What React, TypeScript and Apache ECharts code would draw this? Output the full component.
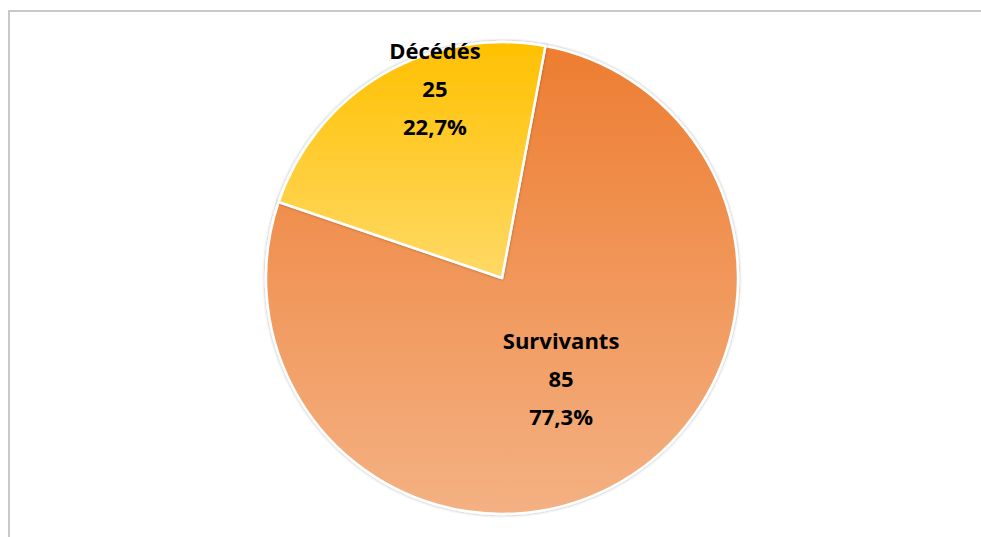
import React, { useEffect, useRef } from "react";
import * as echarts from "echarts";

const categories = ["Survivants", "Décédés"];
const values = [85, 25];
const topColors = ["#ED7D31", "#FFC000"];
const bottomColors = ["#F4B183", "#FFD966"];

export default function App() {
  const ref = useRef<HTMLDivElement>(null);
  useEffect(() => {
    document.body.style.margin = "0";
    const chart = echarts.init(ref.current!, null, { renderer: "svg" });
    const total = values.reduce((a, b) => a + b, 0);
    chart.setOption({
      animation: false,
      backgroundColor: "#ffffff",
      graphic: [
        {
          type: "rect",
          shape: { x: 9, y: 11, width: 1100, height: 700 },
          style: { fill: "none", stroke: "#c9c9c9", lineWidth: 2 },
          z: -1,
        },
      ],
      series: [
        {
          type: "pie",
          center: [502, 278],
          radius: 236,
          startAngle: 79.4,
          clockwise: true,
          label: {
            show: true,
            position: "inside",
            color: "#000",
            fontFamily: "Open Sans",
            fontWeight: "bold",
            fontSize: 22,
            lineHeight: 38,
            formatter: (p: any) =>
              `${p.name}\n${p.value}\n${((p.value / total) * 100).toFixed(1).replace(".", ",")}%`,
          },
          labelLine: { show: false },
          itemStyle: {
            borderColor: "#ffffff",
            borderWidth: 2.5,
            shadowBlur: 3,
            shadowColor: "rgba(0,0,0,0.35)",
          },
          data: categories.map((c, i) => ({
            name: c,
            value: values[i],
            itemStyle: {
              color: new echarts.graphic.LinearGradient(0, 0, 0, 1, [
                { offset: 0, color: topColors[i] },
                { offset: 1, color: bottomColors[i] },
              ]),
            },
            label: i === 1 ? { offset: [-6, -86] } : { offset: [-2, -4] },
          })),
        },
      ],
    });
    return () => chart.dispose();
  }, []);
  return (
    <div
      ref={ref}
      style={{ position: "absolute", left: 0, top: 0, width: 981, height: 537 }}
    />
  );
}
